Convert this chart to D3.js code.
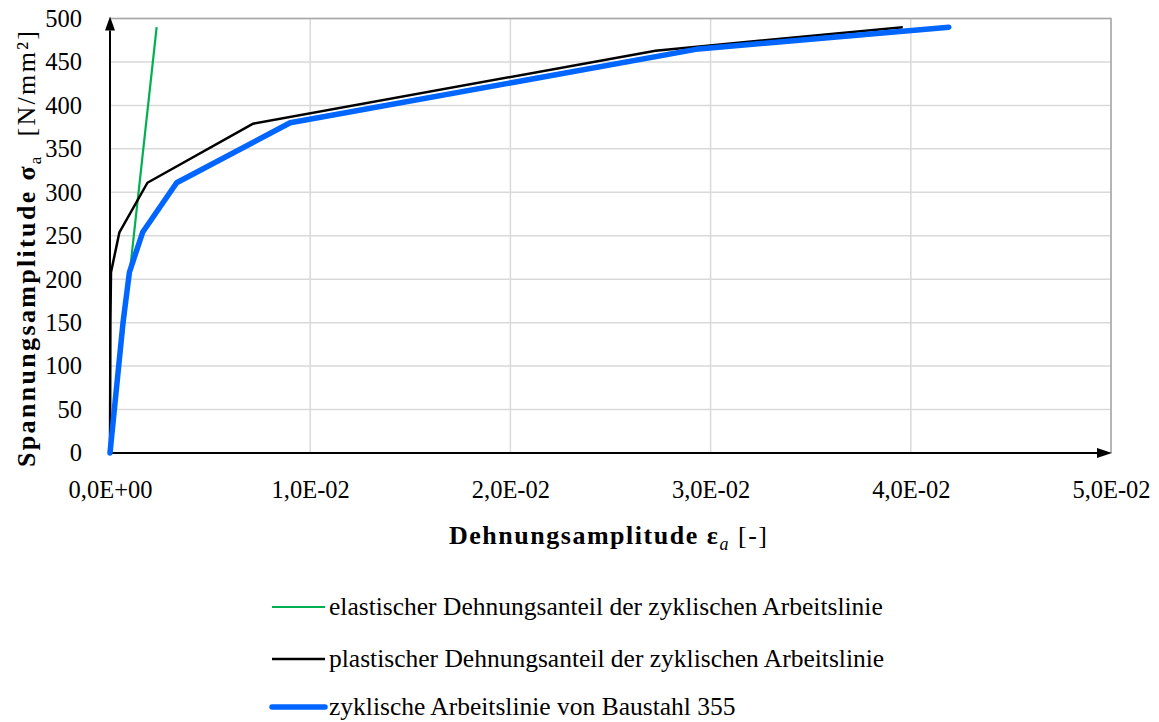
<!DOCTYPE html>
<html>
<head>
<meta charset="utf-8">
<script src="https://cdn.jsdelivr.net/npm/d3@7"></script>
<style>
  body { margin: 0; background: #fff; }
  svg text { font-family: "Liberation Serif", "Tinos", "Times New Roman", "Noto Serif", "DejaVu Serif", serif !important; fill: #000; }
</style>
</head>
<body>
<svg id="chart" width="1159" height="722"></svg>
<script>
// stress levels [N/mm²] and strains
var sigmaTotal = [0, 150, 208, 254, 311, 380, 465, 490];
var epsTotal   = [0, 0.00065, 0.00097, 0.00163, 0.00333, 0.0090, 0.0294, 0.0419];

var sigmaPlastic = [0, 150, 208, 254, 311, 379, 463, 490];
var epsPlastic   = [0, 0.00002, 0.00005, 0.00047, 0.00187, 0.00715, 0.02725, 0.0396];

var sigmaElastic = [0, 490];
var epsElastic   = [0, 0.00233];

var xTicks = [0, 0.01, 0.02, 0.03, 0.04, 0.05];
var xTickLabels = ["0,0E+00", "1,0E-02", "2,0E-02", "3,0E-02", "4,0E-02", "5,0E-02"];
var yTicks = [0, 50, 100, 150, 200, 250, 300, 350, 400, 450, 500];

var legendNames = [
    "elastischer Dehnungsanteil der zyklischen Arbeitslinie",
    "plastischer Dehnungsanteil der zyklischen Arbeitslinie",
    "zyklische Arbeitslinie von Baustahl 355"
];

var svg = d3.select("#chart");
var margin = {left: 110, top: 18.5, right: 48, bottom: 269};
var width = 1159 - margin.left - margin.right,
    height = 722 - margin.top - margin.bottom;

var x = d3.scaleLinear().domain([0, 0.05]).range([0, width]);
var y = d3.scaleLinear().domain([0, 500]).range([height, 0]);

var g = svg.append("g")
    .attr("transform", "translate(" + margin.left + "," + margin.top + ")");

// grid
g.append("g").selectAll("line.hgrid")
    .data(yTicks.slice(1))
    .enter().append("line")
    .attr("x1", 0).attr("x2", width)
    .attr("y1", function(d) { return y(d); })
    .attr("y2", function(d) { return y(d); })
    .attr("stroke", "#d9d9d9").attr("stroke-width", 1.5);

g.append("g").selectAll("line.vgrid")
    .data(xTicks.slice(1))
    .enter().append("line")
    .attr("x1", function(d) { return x(d); })
    .attr("x2", function(d) { return x(d); })
    .attr("y1", 0).attr("y2", height)
    .attr("stroke", "#d9d9d9").attr("stroke-width", 1.5);

// top / right frame
g.append("path")
    .attr("d", "M0,0H" + width + "V" + height)
    .attr("fill", "none").attr("stroke", "#a6a6a6").attr("stroke-width", 1.5);

// axes (tick labels)
var xAxis = d3.axisBottom(x).tickValues(xTicks)
    .tickFormat(function(d, i) { return xTickLabels[i]; })
    .tickSize(0).tickPadding(28);
var gx = g.append("g").attr("transform", "translate(0," + height + ")").call(xAxis);
gx.select(".domain").remove();
gx.selectAll("text").style("font-size", "24.5px");

var yAxis = d3.axisLeft(y).tickValues(yTicks).tickSize(0).tickPadding(28);
var gy = g.append("g").call(yAxis);
gy.select(".domain").remove();
gy.selectAll("text").style("font-size", "24.5px");

// arrow axes
g.append("line").attr("x1", 0).attr("x2", 0).attr("y1", height).attr("y2", 12)
    .attr("stroke", "#000").attr("stroke-width", 2);
g.append("path").attr("d", "M0,-2 L-5,12 L5,12 Z").attr("fill", "#000");
g.append("line").attr("x1", 0).attr("x2", width - 12).attr("y1", height).attr("y2", height)
    .attr("stroke", "#000").attr("stroke-width", 2);
g.append("path")
    .attr("d", "M" + (width + 1) + "," + height + " L" + (width - 14) + "," + (height - 5) +
        " L" + (width - 14) + "," + (height + 5) + " Z")
    .attr("fill", "#000");

// lines
var line = d3.line()
    .x(function(d) { return x(d[0]); })
    .y(function(d) { return y(d[1]); });

var series = [
    {eps: epsElastic, sigma: sigmaElastic, color: "#00b050", w: 2.2, cap: "butt"},
    {eps: epsPlastic, sigma: sigmaPlastic, color: "#000000", w: 2.5, cap: "butt"},
    {eps: epsTotal, sigma: sigmaTotal, color: "#0066ff", w: 5.5, cap: "round"}
];

series.forEach(function(s) {
    g.append("path")
        .datum(d3.zip(s.eps, s.sigma))
        .attr("d", line)
        .attr("fill", "none")
        .attr("stroke", s.color)
        .attr("stroke-width", s.w)
        .attr("stroke-linejoin", "round")
        .attr("stroke-linecap", s.cap);
});

// axis titles
var yt = svg.append("text")
    .attr("transform", "translate(35,249) rotate(-90)")
    .attr("text-anchor", "middle")
    .attr("textLength", 436)
    .attr("lengthAdjust", "spacing")
    .style("font-size", "26px");
yt.append("tspan").style("font-weight", "bold").text("Spannungsamplitude σ");
yt.append("tspan").attr("dy", 6).style("font-size", "17px").text("a");
yt.append("tspan").attr("dy", -6).text("\u00a0\u00a0[N/mm²]");

var xt = svg.append("text")
    .attr("x", 608)
    .attr("y", 544)
    .attr("text-anchor", "middle")
    .attr("textLength", 318)
    .attr("lengthAdjust", "spacing")
    .style("font-size", "26px");
xt.append("tspan").style("font-weight", "bold").text("Dehnungsamplitude ε");
xt.append("tspan").attr("dy", 6).style("font-size", "18px").style("font-style", "italic").text("a");
xt.append("tspan").attr("dy", -6).text("\u00a0[-]");

// legend
var legend = svg.append("g").attr("transform", "translate(272,607)");
var legendRows = legend.selectAll("g")
    .data(series)
    .enter().append("g")
    .attr("transform", function(d, i) { return "translate(0," + [0, 52, 100][i] + ")"; });

legendRows.append("line")
    .attr("x1", 0).attr("x2", 53).attr("y1", 0).attr("y2", 0)
    .attr("stroke", function(d) { return d.color; })
    .attr("stroke-width", function(d) { return d.w; })
    .attr("stroke-linecap", function(d) { return d.cap; });

legendRows.append("text")
    .attr("x", 57).attr("y", 8)
    .style("font-size", "25.5px")
    .text(function(d, i) { return legendNames[i]; });
</script>
</body>
</html>
